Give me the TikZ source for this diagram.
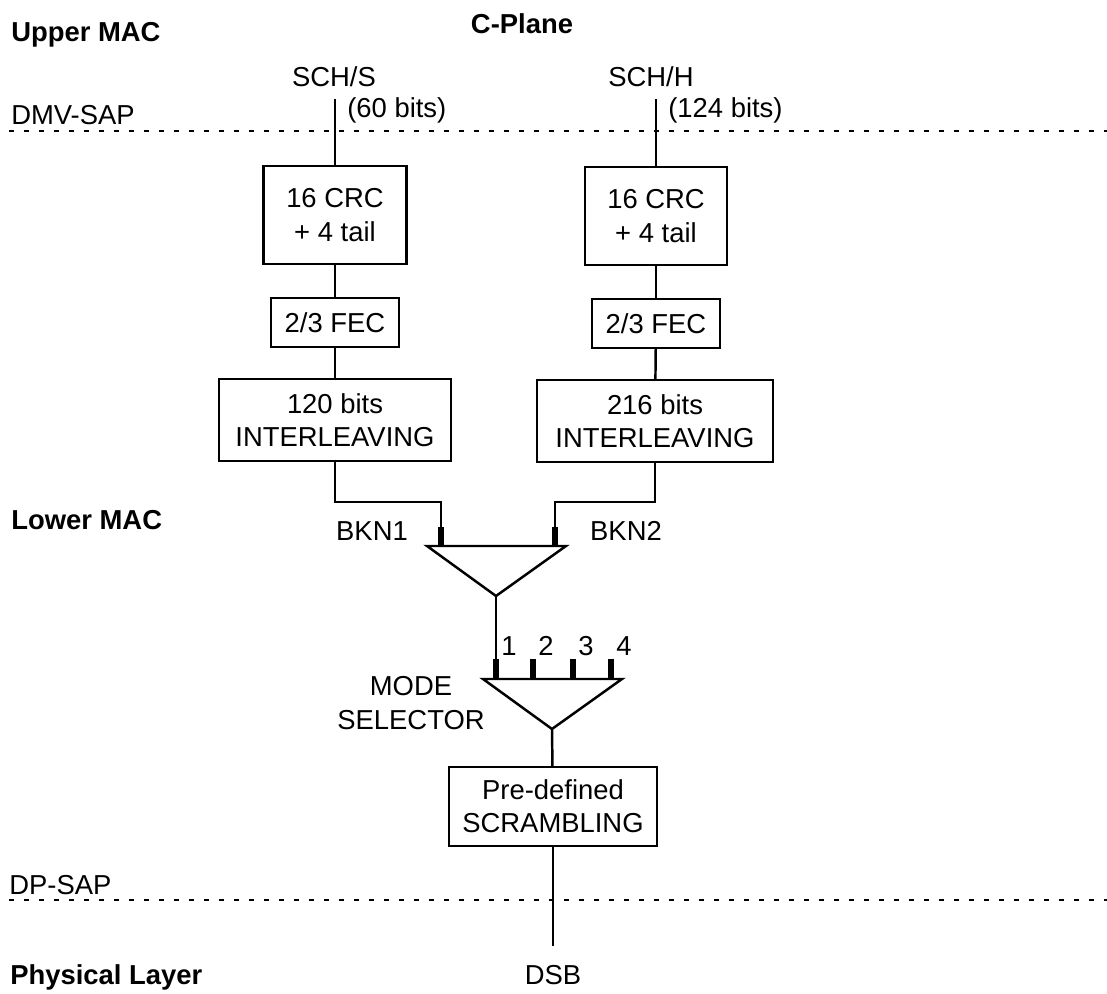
\documentclass[tikz,border=0pt]{standalone}
\usepackage{fontspec}
\setmainfont{Liberation Sans}

\tikzset{
  blk/.style={draw, line width=1.4pt, align=center, inner sep=0pt},
  lbl/.style={inner sep=0pt},
  ttl/.style={inner sep=0pt, anchor=west, font=\fontsize{15.6}{19}\selectfont\bfseries},
  wire/.style={line width=1.4pt},
  tick/.style={line width=3.4pt},
  sap/.style={line width=0.7pt, dash pattern=on 0.1cm off 0.2cm},
}

\begin{document}
\begin{tikzpicture}[x=0.02cm, y=-0.02cm, font=\fontsize{15.6}{19}\selectfont]
		\useasboundingbox (0,0) rectangle (1107,994);
		% layers and service access points
		\node[ttl] (upper) at (11,35) {Upper MAC};
		\node[ttl, anchor=center] (cplane) at (522,24) {C-Plane};
		\node[ttl] (lower) at (11,520) {Lower MAC};
		\node[ttl] (phys) at (10,977) {Physical Layer};
		\node[lbl, anchor=west] (dmvsap) at (11,115) {DMV-SAP};
		\node[lbl, anchor=west] (dpsap) at (9,885) {DP-SAP};
		\draw[sap] (9,131) -- (1107,131);
		\draw[sap] (9,900) -- (1107,900);
		% logical channels
		\node[lbl] (schs) at (334,77) {SCH/S};
		\node[lbl, anchor=west] (bitsS) at (347,110) {(60 bits)};
		\node[lbl] (schh) at (651,77) {SCH/H};
		\node[lbl, anchor=west] (bitsH) at (668,110) {(124 bits)};
		\coordinate (inS) at (335,99);
		\coordinate (inH) at (656,99);
		% coding chains
		\node[blk, minimum width=2.86cm, minimum height=1.96cm] (crcS) at (335,215) {16 CRC\\+ 4 tail};
		\node[blk, minimum width=2.56cm, minimum height=0.98cm] (fecS) at (335,322.5) {2/3 FEC};
		\node[blk, minimum width=4.64cm, minimum height=1.64cm] (ilvS) at (335,420) {120 bits\\INTERLEAVING};
		\node[blk, minimum width=2.84cm, minimum height=1.96cm] (crcH) at (656,216) {16 CRC\\+ 4 tail};
		\node[blk, minimum width=2.56cm, minimum height=0.98cm] (fecH) at (656,323.5) {2/3 FEC};
		\node[blk, minimum width=4.72cm, minimum height=1.64cm] (ilvH) at (655,421) {216 bits\\INTERLEAVING};
		\draw[wire] (inS) -- (crcS);
		\draw[wire] (crcS) -- (fecS);
		\draw[wire] (fecS) -- (ilvS);
		\draw[wire] (inH) -- (crcH);
		\draw[wire] (crcH) -- (fecH);
		\draw[wire] (fecH) -- (ilvH);
		% burst mixer
		\coordinate (mixL) at (441,546);
		\coordinate (mixR) at (555,546);
		\coordinate (mixOut) at (496,596);
		\draw[wire] (427,546) -- (566,546) -- (mixOut) -- cycle;
		\draw[wire] (ilvS) -- (ilvS |- 0,502) -| (mixL);
		\draw[wire] (ilvH) -- (ilvH |- 0,502) -| (mixR);
		\draw[tick] (mixL) -- ++(0,-19);
		\draw[tick] (mixR) -- ++(0,-19);
		\node[lbl] (bkn1) at (372,531) {BKN1};
		\node[lbl] (bkn2) at (626,531) {BKN2};
		% mode selector
		\coordinate (selIn) at (496,679);
		\coordinate (selOut) at (552,729);
		\draw[wire] (483,679) -- (622,679) -- (selOut) -- cycle;
		\draw[wire] (mixOut) -- (selIn);
		\foreach \x/\n in {496/1,533/2,573/3,611/4} {
			\draw[tick] (\x,679) -- (\x,659);
			\node[lbl] (port\n) at (\x+13,646) {\n};
		}
		\node[lbl, align=center] (mode) at (411,703) {MODE\\SELECTOR};
		% scrambling
		\node[blk, minimum width=4.16cm, minimum height=1.58cm] (scr) at (553,806.5) {Pre-defined\\SCRAMBLING};
		\coordinate (dsbTop) at (553,946);
		\node[lbl] (dsb) at (553,975) {DSB};
		\draw[wire] (selOut) -- (scr);
		\draw[wire] (scr) -- (dsbTop);
\end{tikzpicture}
\end{document}
